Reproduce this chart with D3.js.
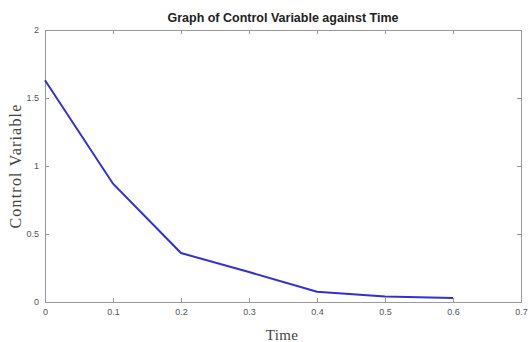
<!DOCTYPE html>
<html>
<head>
<meta charset="utf-8">
<script src="https://cdn.jsdelivr.net/npm/d3@7"></script>
<style>
  body { margin: 0; background: #fff; }
  .axis path, .axis line { stroke: #999; }
  .axis text { fill: #555; font-family: "Liberation Sans", Arial, sans-serif; font-size: 9px; }
</style>
</head>
<body>
<svg id="chart" width="528" height="342"></svg>
<script>
const time = [0, 0.1, 0.2, 0.3, 0.4, 0.5, 0.6];
const control = [1.63, 0.87, 0.36, 0.22, 0.075, 0.04, 0.03];
const xTicks = [0, 0.1, 0.2, 0.3, 0.4, 0.5, 0.6, 0.7];
const yTicks = [0, 0.5, 1, 1.5, 2];

const margin = { top: 30, right: 7, bottom: 40, left: 45 };
const width = 528 - margin.left - margin.right;
const height = 342 - margin.top - margin.bottom;

const svg = d3.select("#chart");
const chart = svg.append("g").attr("transform", `translate(${margin.left}, ${margin.top})`);

const x = d3.scaleLinear().domain([0, 0.7]).range([0, width]);
const y = d3.scaleLinear().domain([0, 2]).range([height, 0]);

const fmt = d => (d === 0 ? "0" : d3.format("")(d));

chart.append("g")
  .attr("class", "axis")
  .attr("transform", `translate(0, ${height})`)
  .call(d3.axisBottom(x).tickValues(xTicks).tickSize(-4).tickPadding(7).tickFormat(fmt));

chart.append("g")
  .attr("class", "axis")
  .call(d3.axisLeft(y).tickValues(yTicks).tickSize(-4).tickPadding(6).tickFormat(fmt));

// box top and right
chart.append("g")
  .attr("class", "axis")
  .call(d3.axisTop(x).tickValues(xTicks).tickSize(-4).tickFormat(""));

chart.append("g")
  .attr("class", "axis")
  .attr("transform", `translate(${width}, 0)`)
  .call(d3.axisRight(y).tickValues(yTicks).tickSize(-4).tickFormat(""));

const line = d3.line()
  .x((d, i) => x(time[i]))
  .y(d => y(d));

chart.append("path")
  .datum(control)
  .attr("fill", "none")
  .attr("stroke", "#3030d8")
  .attr("stroke-width", 2)
  .attr("d", line);

// title
svg.append("text")
  .attr("x", margin.left + width / 2)
  .attr("y", 22)
  .attr("text-anchor", "middle")
  .attr("font-family", "'Liberation Sans', Arial, sans-serif")
  .attr("font-weight", "bold")
  .attr("font-size", "12.5px")
  .attr("fill", "#222")
  .text("Graph of Control Variable against Time");

// axis labels
svg.append("text")
  .attr("x", margin.left + width / 2 - 1)
  .attr("y", 340)
  .attr("text-anchor", "middle")
  .attr("font-family", "'Liberation Serif', 'DejaVu Serif', serif")
  .attr("font-size", "15px")
  .attr("letter-spacing", "0.3px")
  .attr("fill", "#444")
  .text("Time");

svg.append("text")
  .attr("transform", `translate(21, ${margin.top + height / 2}) rotate(-90)`)
  .attr("text-anchor", "middle")
  .attr("font-family", "'Liberation Serif', 'DejaVu Serif', serif")
  .attr("font-size", "16px")
  .attr("letter-spacing", "1.2px")
  .attr("fill", "#444")
  .text("Control Variable");
</script>
</body>
</html>
